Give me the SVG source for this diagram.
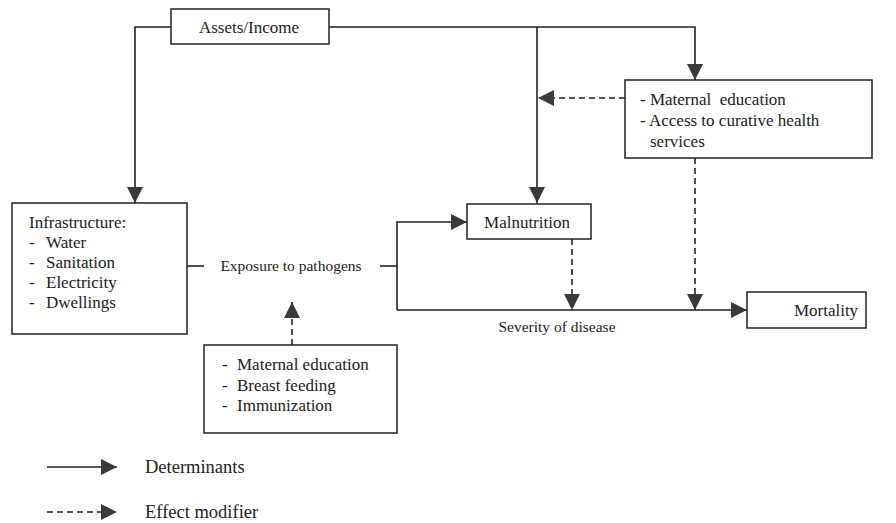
<svg xmlns="http://www.w3.org/2000/svg" width="896" height="523" viewBox="0 0 896 523">
<style>
  .box{fill:#fff;stroke:#222;stroke-width:1.5}
  .t{font-family:"Liberation Serif","Times New Roman",serif;font-size:17px;fill:#222}
  .s{font-size:15.5px}
  .l{font-size:18.5px}
  .c{fill:none;stroke:#222;stroke-width:1.6}
  .d{stroke-dasharray:6,4}
</style>
<defs>
  <marker id="ah" markerUnits="userSpaceOnUse" markerWidth="17" markerHeight="16" refX="16" refY="8" orient="auto" viewBox="0 0 17 16">
    <path d="M0,0 L16,8 L0,16 z" fill="#3a3a3a"/>
  </marker>
</defs>
<rect width="896" height="523" fill="#fff"/>
<g id="connectors">
  <path class="c" d="M171,27 H135 V203" marker-end="url(#ah)"/>
  <path class="c" d="M329,27 H695 V80" marker-end="url(#ah)"/>
  <path class="c" d="M537,27 V203" marker-end="url(#ah)"/>
  <path class="c d" d="M625,98 H538" marker-end="url(#ah)"/>
  <path class="c" d="M187,266 H204"/>
  <path class="c" d="M380,266 H397"/>
  <path class="c" d="M397,310 V222 H467" marker-end="url(#ah)"/>
  <path class="c" d="M397,310 H747" marker-end="url(#ah)"/>
  <path class="c d" d="M572,239 V310" marker-end="url(#ah)"/>
  <path class="c d" d="M695,158 V310" marker-end="url(#ah)"/>
  <path class="c d" d="M292,345 V302" marker-end="url(#ah)"/>
</g>
<g id="assets">
  <rect class="box" x="171" y="9" width="158" height="35"/>
  <text class="t" x="249" y="33" text-anchor="middle">Assets/Income</text>
</g>
<g id="modifiers-top">
  <rect class="box" x="625" y="80" width="247" height="78"/>
  <text class="t" x="640" y="105" xml:space="preserve">- Maternal  education</text>
  <text class="t" x="640" y="126">- Access to curative health</text>
  <text class="t" x="650" y="147">services</text>
</g>
<g id="infrastructure">
  <rect class="box" x="12" y="203" width="175" height="131"/>
  <text class="t" x="29" y="228">Infrastructure:</text>
  <text class="t" x="29" y="248">-</text><text class="t" x="46" y="248">Water</text>
  <text class="t" x="29" y="268">-</text><text class="t" x="46" y="268">Sanitation</text>
  <text class="t" x="29" y="288">-</text><text class="t" x="46" y="288">Electricity</text>
  <text class="t" x="29" y="308">-</text><text class="t" x="46" y="308">Dwellings</text>
</g>
<g id="exposure">
  <text class="t s" x="291" y="271" text-anchor="middle">Exposure to pathogens</text>
</g>
<g id="modifiers-bottom">
  <rect class="box" x="204" y="345" width="193" height="88"/>
  <text class="t" x="222" y="370">-</text><text class="t" x="237" y="370">Maternal education</text>
  <text class="t" x="222" y="391">-</text><text class="t" x="237" y="391">Breast feeding</text>
  <text class="t" x="222" y="411">-</text><text class="t" x="237" y="411">Immunization</text>
</g>
<g id="malnutrition">
  <rect class="box" x="467" y="204" width="124" height="35"/>
  <text class="t" x="527" y="228" text-anchor="middle">Malnutrition</text>
</g>
<g id="severity">
  <text class="t s" x="557" y="332" text-anchor="middle">Severity of disease</text>
</g>
<g id="mortality">
  <rect class="box" x="747" y="292" width="119" height="36"/>
  <text class="t" x="826" y="316" text-anchor="middle">Mortality</text>
</g>
<g id="legend">
  <path class="c" d="M47,467 H117" marker-end="url(#ah)"/>
  <text class="t l" x="145" y="473">Determinants</text>
  <path class="c d" d="M47,512 H117" marker-end="url(#ah)"/>
  <text class="t l" x="145" y="518">Effect modifier</text>
</g>
</svg>
